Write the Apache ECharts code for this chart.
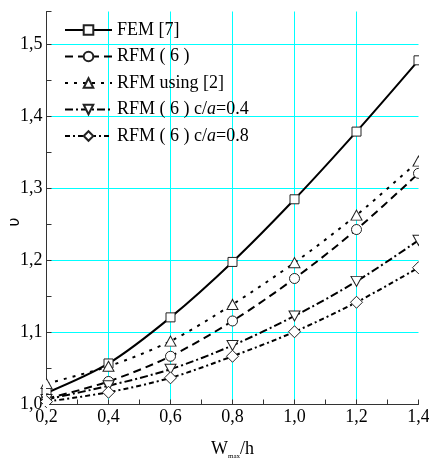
<!DOCTYPE html>
<html>
<head>
<meta charset="utf-8">
<script src="https://cdn.jsdelivr.net/npm/echarts@6/dist/echarts.min.js"></script>
<style>html,body{margin:0;padding:0;background:#fff}#c{width:429px;height:460px}</style>
</head>
<body>
<div id="c"></div>
<script>
var xValues = [0.2, 0.4, 0.6, 0.8, 1.0, 1.2, 1.4];
var femValues = [1.016, 1.057, 1.121, 1.198, 1.285, 1.379, 1.478];
var rfm6Values = [1.008, 1.032, 1.067, 1.116, 1.175, 1.243, 1.321];
var rfm2Values = [1.029, 1.053, 1.088, 1.139, 1.197, 1.263, 1.338];
var c04Values = [1.007, 1.026, 1.049, 1.082, 1.123, 1.171, 1.228];
var c08Values = [1.004, 1.017, 1.037, 1.067, 1.101, 1.142, 1.190];
var seriesNames = ['FEM [7]', 'RFM ( 6 )', 'RFM using [2]', 'RFM ( 6 ) c/a=0.4', 'RFM ( 6 ) c/a=0.8'];
var xTicks = [0.2, 0.4, 0.6, 0.8, 1.0, 1.2, 1.4];
var yTicks = [1.0, 1.1, 1.2, 1.3, 1.4, 1.5];

function pairs(vals) { return xValues.map(function (x, i) { return [x, vals[i]]; }); }
var serif = '"Liberation Serif", "Times New Roman", "DejaVu Serif", serif';
var markStyle = { color: '#fff', borderColor: '#222', borderWidth: 1 };
var gridColor = '#00ffff';

function mk(name, vals, symbol, size, rot, dash) {
  return {
    name: name, type: 'line', data: pairs(vals), smooth: 0.3, clip: true,
    symbol: symbol, symbolSize: size, symbolRotate: rot, showAllSymbol: true,
    lineStyle: { color: '#000', width: 2, type: dash },
    itemStyle: markStyle, z: 2
  };
}

var chart = echarts.init(document.getElementById('c'));
chart.setOption({
  backgroundColor: '#fff',
  animation: false,
  grid: { left: 46.5, right: 10.5, top: 11.5, bottom: 55.5, containLabel: false, outerBoundsMode: 'none' },
  legend: {
    orient: 'vertical', left: 64, top: 20, padding: 0,
    itemWidth: 47, itemHeight: 12, itemGap: 6.5,
    textStyle: { fontFamily: serif, fontSize: 18, color: '#000', lineHeight: 20,
      rich: { i: { fontFamily: serif, fontStyle: 'italic', fontSize: 18, color: '#000' } } },
    formatter: function (n) { return n.replace('c/a=', 'c/{i|a}='); },
    data: seriesNames
  },
  xAxis: {
    type: 'value', min: 0.2, max: 1.4, interval: 0.2,
    name: '{w|W}{s|max}{h|/h}', nameLocation: 'middle', nameGap: 34, nameMoveOverlap: false,
    nameTextStyle: { fontFamily: serif, fontSize: 18, color: '#000',
      rich: {
        w: { fontFamily: serif, fontSize: 18, color: '#000' },
        s: { fontFamily: serif, fontSize: 7, color: '#000', padding: [14, 0, 0, 0] },
        h: { fontFamily: serif, fontSize: 18, color: '#000' }
      } },
    axisLine: { show: true, lineStyle: { color: '#333', width: 1 } },
    axisTick: { show: true, inside: true, length: 5, lineStyle: { color: '#333' } },
    minorTick: { show: true, splitNumber: 2, length: 5, lineStyle: { color: '#333' } },
    axisLabel: { fontFamily: serif, fontSize: 18, color: '#000', margin: 4,
      formatter: function (v) { return v.toFixed(1).replace('.', ','); } },
    splitLine: { show: true, showMinLine: false, showMaxLine: false, lineStyle: { color: gridColor, width: 1, opacity: 1 } }
  },
  yAxis: {
    type: 'value', min: 1.0, max: 1.5458, interval: 0.1,
    name: 'υ', nameLocation: 'middle', nameGap: 24, nameMoveOverlap: false,
    nameTextStyle: { fontFamily: 'DejaVu Sans', fontSize: 16, color: '#000', padding: [0, 28, 0, 0] },
    axisLine: { show: true, lineStyle: { color: '#333', width: 1 } },
    axisTick: { show: true, inside: true, length: 5, lineStyle: { color: '#333' } },
    minorTick: { show: true, splitNumber: 2, length: 5, lineStyle: { color: '#333' } },
    axisLabel: { fontFamily: serif, fontSize: 18, color: '#000', margin: 4, showMaxLabel: false,
      formatter: function (v) { return v.toFixed(1).replace('.', ','); } },
    splitLine: { show: true, showMinLine: false, showMaxLine: false, lineStyle: { color: gridColor, width: 1, opacity: 1 } }
  },
  graphic: [
    { type: 'rect', z: 3, silent: true, shape: { x: 43, y: 370, width: 3, height: 36 }, style: { fill: '#fff' } },
    { type: 'rect', z: 3, silent: true, shape: { x: 419, y: 0, width: 10, height: 404 }, style: { fill: '#fff' } },
    { type: 'rect', z: 3, silent: true, shape: { x: 47, y: 405, width: 372, height: 3 }, style: { fill: '#fff' } }
  ],
  series: [
    mk(seriesNames[0], femValues, 'rect', 9, 0, 'solid'),
    mk(seriesNames[1], rfm6Values, 'circle', 10, 0, [8, 5]),
    mk(seriesNames[2], rfm2Values, 'triangle', [11, 10], 0, [3, 6]),
    mk(seriesNames[3], c04Values, 'triangle', [11, 10], 180, [8, 3, 2, 3]),
    mk(seriesNames[4], c08Values, 'diamond', 12, 0, [5, 3, 2, 3])
  ]
});
</script>
</body>
</html>
